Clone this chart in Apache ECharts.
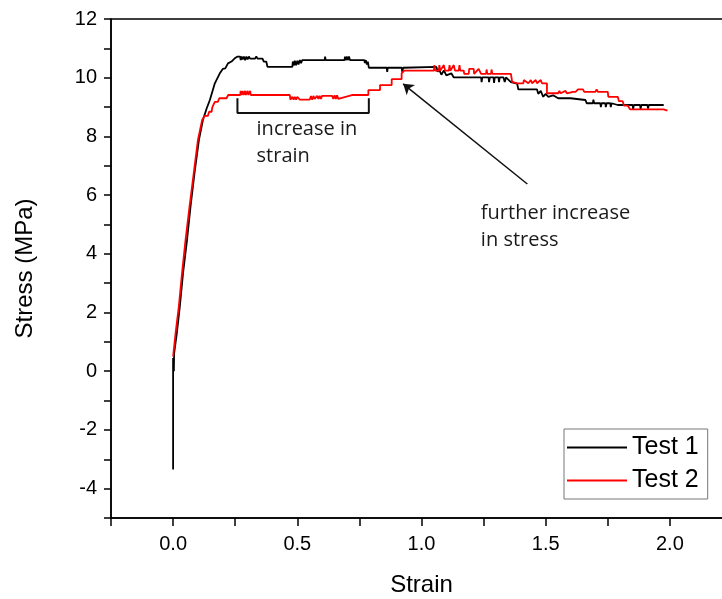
<!DOCTYPE html>
<html>
<head>
<meta charset="utf-8">
<script src="https://cdn.jsdelivr.net/npm/echarts@6/dist/echarts.min.js"></script>
<style>html,body{margin:0;padding:0;background:#fff}#c{width:722px;height:599px}</style>
</head>
<body>
<div id="c"></div>
<script>
// ---- data (strain, stress in MPa) ----
const test1 = [
 [0,-3.35],[0,0.45],[0.003,0.0],[0.004,0.6],[0.015,1.3],[0.027,2.2],[0.04,3.34],[0.056,4.47],[0.07,5.6],[0.086,6.74],[0.104,7.88],[0.12,8.56],[0.135,8.95],[0.148,9.24],[0.168,9.81],[0.188,10.15],[0.2,10.3],[0.21,10.32],[0.221,10.49],[0.235,10.55],[0.248,10.66],[0.26,10.72],
 [0.27,10.72],[0.272,10.6],[0.276,10.72],[0.28,10.62],[0.285,10.72],[0.29,10.6],[0.295,10.72],[0.3,10.62],[0.305,10.72],[0.31,10.65],[0.33,10.65],[0.335,10.72],[0.34,10.65],[0.36,10.65],[0.365,10.55],[0.375,10.55],[0.38,10.37],
 [0.48,10.37],[0.482,10.55],[0.487,10.42],[0.49,10.58],[0.495,10.42],[0.5,10.58],[0.505,10.45],[0.51,10.6],[0.515,10.5],[0.52,10.6],
 [0.61,10.6],[0.612,10.72],[0.614,10.6],[0.69,10.6],[0.692,10.72],[0.695,10.6],[0.7,10.72],[0.703,10.6],[0.708,10.72],[0.712,10.6],[0.77,10.6],[0.772,10.5],[0.776,10.6],[0.78,10.45],[0.784,10.55],[0.788,10.34],
 [0.86,10.34],[0.862,10.2],[0.864,10.34],[0.92,10.34],[0.923,10.18],[0.926,10.34],[0.93,10.37],[1.06,10.37],[1.065,10.2],[1.07,10.3],[1.08,10.1],[1.09,10.25],[1.1,10.08],[1.12,10.15],[1.13,10.01],
 [1.24,10.01],[1.242,9.85],[1.245,10.01],[1.27,10.01],[1.272,9.85],[1.275,10.01],[1.29,10.01],[1.292,9.82],[1.295,10.01],[1.31,10.01],[1.312,9.85],[1.315,10.01],[1.33,10.01],[1.335,9.85],[1.34,10.01],[1.36,9.85],[1.385,9.8],[1.39,9.6],
 [1.465,9.6],[1.47,9.45],[1.48,9.55],[1.49,9.35],[1.5,9.45],[1.51,9.35],[1.53,9.4],[1.55,9.3],[1.6,9.3],[1.605,9.24],[1.66,9.24],[1.665,9.13],[1.69,9.13],[1.692,9.25],[1.695,9.13],[1.72,9.13],[1.722,9.0],[1.725,9.13],[1.74,9.13],[1.742,9.0],[1.745,9.13],[1.76,9.13],[1.762,9.0],[1.765,9.13],[1.79,9.07],
 [1.85,9.07],[1.852,8.93],[1.855,9.07],[1.88,9.07],[1.882,8.93],[1.885,9.07],[1.91,9.07],[1.912,8.95],[1.915,9.07],[1.975,9.07]
];
const test2 = [
 [0,0.5],[0.01,1.3],[0.023,2.2],[0.036,3.34],[0.05,4.47],[0.066,5.6],[0.083,6.74],[0.1,7.88],[0.117,8.56],[0.125,8.56],[0.127,8.7],[0.14,8.7],[0.145,8.84],[0.155,8.84],[0.158,9.0],[0.165,9.0],[0.168,9.18],[0.18,9.18],[0.186,9.3],[0.215,9.3],[0.222,9.41],
 [0.27,9.41],[0.272,9.55],[0.275,9.41],[0.28,9.55],[0.284,9.41],[0.29,9.55],[0.293,9.41],[0.3,9.55],[0.303,9.41],[0.31,9.55],[0.313,9.41],
 [0.47,9.41],[0.472,9.25],[0.48,9.35],[0.485,9.25],[0.49,9.35],[0.495,9.25],[0.5,9.35],[0.51,9.25],[0.55,9.25],[0.555,9.38],[0.56,9.25],[0.565,9.38],[0.57,9.28],[0.58,9.38],[0.585,9.28],[0.59,9.38],[0.595,9.28],[0.6,9.38],
 [0.64,9.38],[0.645,9.28],[0.65,9.4],[0.655,9.28],[0.66,9.4],[0.665,9.28],[0.72,9.41],[0.786,9.41],[0.786,9.58],[0.833,9.58],[0.833,9.75],[0.88,9.75],[0.88,9.95],[0.92,9.95],[0.92,10.15],[0.928,10.15],[0.93,10.24],
 [1.05,10.24],[1.052,10.43],[1.055,10.24],[1.07,10.24],[1.072,10.43],[1.075,10.24],[1.09,10.43],[1.095,10.24],[1.11,10.24],[1.113,10.43],[1.116,10.24],[1.13,10.43],[1.135,10.24],[1.15,10.24],[1.153,10.43],[1.156,10.24],[1.17,10.24],[1.172,10.13],
 [1.19,10.13],[1.192,10.3],[1.2,10.3],[1.21,10.3],[1.212,10.13],[1.23,10.3],[1.24,10.13],[1.26,10.13],[1.262,10.28],[1.265,10.13],[1.28,10.13],[1.282,10.28],[1.285,10.13],[1.36,10.13],[1.365,9.86],[1.385,9.81],
 [1.41,9.81],[1.412,9.92],[1.42,9.92],[1.43,9.81],[1.44,9.92],[1.445,9.81],[1.46,9.92],[1.465,9.81],[1.48,9.92],[1.485,9.81],[1.505,9.81],[1.505,9.47],[1.55,9.47],[1.555,9.55],[1.56,9.47],[1.58,9.55],[1.585,9.47],[1.61,9.52],[1.62,9.52],[1.63,9.6],[1.65,9.6],[1.655,9.52],[1.7,9.52],[1.705,9.6],[1.71,9.52],[1.75,9.52],[1.752,9.35],[1.79,9.35],[1.795,9.2],[1.81,9.2],[1.815,9.05],[1.83,9.05],[1.84,8.92],[1.975,8.92],[1.978,8.88],[1.99,8.88]
];
const seriesNames = ['Test 1', 'Test 2'];
// annotation geometry in data units
const bracket = [[0.259,9.3],[0.259,8.8],[0.788,8.8],[0.788,9.3]];
const arrowFrom = [1.426,6.38];
const arrowTo = [0.926,9.79];
const noteStrain = {lines:['increase in','strain'], at:[0.336,7.9]};
const noteStress = {lines:['further increase','in stress'], at:[1.239,5.05]};
// axis settings
const xTicks = {min:-0.25, max:2.25, interval:0.25};
const yTicks = {min:-5, max:12, interval:1};

const chart = echarts.init(document.getElementById('c'), null, {renderer:'canvas'});
const AX = 'Liberation Sans, Arial, sans-serif';
const option = {
  animation:false,
  backgroundColor:'#fff',
  grid:{left:111, top:19, right:-10, bottom:81, show:true, borderColor:'#000', borderWidth:1.5,
        outerBoundsMode:'none', containLabel:false},
  xAxis:{
    type:'value', min:xTicks.min, max:xTicks.max, interval:xTicks.interval,
    name:'Strain', nameLocation:'middle', nameGap:55,
    nameTextStyle:{fontSize:24, fontFamily:AX, color:'#000'},
    axisLine:{show:true, onZero:false, lineStyle:{color:'#000', width:1.5}},
    axisTick:{show:true, length:8, lineStyle:{color:'#000', width:1.5}},
    axisLabel:{fontSize:20, fontFamily:AX, color:'#000', margin:16,
      formatter:v=>{const d=v*2; return Math.abs(d-Math.round(d))<1e-6 ? v.toFixed(1) : '';}},
    splitLine:{show:false}
  },
  yAxis:{
    type:'value', min:yTicks.min, max:yTicks.max, interval:yTicks.interval,
    name:'Stress (MPa)', nameLocation:'middle', nameGap:74,
    nameTextStyle:{fontSize:24, fontFamily:AX, color:'#000'},
    axisLine:{show:true, onZero:false, lineStyle:{color:'#000', width:1.5}},
    axisTick:{show:true, length:7, lineStyle:{color:'#000', width:1.5}},
    axisLabel:{fontSize:20, fontFamily:AX, color:'#000', margin:14,
      formatter:v=> (Math.round(v)%2===0 ? String(Math.round(v)) : '')},
    splitLine:{show:false}
  },
  legend:{
    data:seriesNames.map(n=>({name:n, icon:'rect'})), orient:'vertical', left:564, top:429,
    itemWidth:60, itemHeight:2, itemGap:8, padding:[6,9,6,3],
    borderColor:'#777', borderWidth:1, selectedMode:false,
    textStyle:{fontSize:25, fontFamily:AX, color:'#000'}
  },
  series:[
    {name:seriesNames[0], type:'line', data:test1, showSymbol:false, symbol:'none',
      lineStyle:{color:'#000', width:1.8}, itemStyle:{color:'#000'}, z:3},
    {name:seriesNames[1], type:'line', data:test2, showSymbol:false, symbol:'none',
      lineStyle:{color:'#ff0000', width:1.8}, itemStyle:{color:'#ff0000'}, z:4},
    {name:'bracket', type:'line', data:bracket, showSymbol:false, symbol:'none',
      lineStyle:{color:'#111', width:2}, z:5, silent:true,
      markLine:{silent:true, symbol:['none','arrow'], symbolSize:10,
        label:{show:false}, lineStyle:{color:'#111', width:1.5, type:'solid'},
        data:[[{coord:arrowFrom},{coord:arrowTo}]]}}
  ]
};
chart.setOption(option);

function noteGraphics(note){
  const p = chart.convertToPixel({gridIndex:0}, note.at);
  return note.lines.map((t,i)=>({
    type:'text', x:p[0], y:p[1] + i*27, z:10, silent:true,
    style:{text:t, font:'20px "Open Sans", sans-serif', fill:'#1a1a1a',
      align:'left', verticalAlign:'bottom'}
  }));
}
chart.setOption({graphic:[...noteGraphics(noteStrain), ...noteGraphics(noteStress)]});
</script>
</body>
</html>
